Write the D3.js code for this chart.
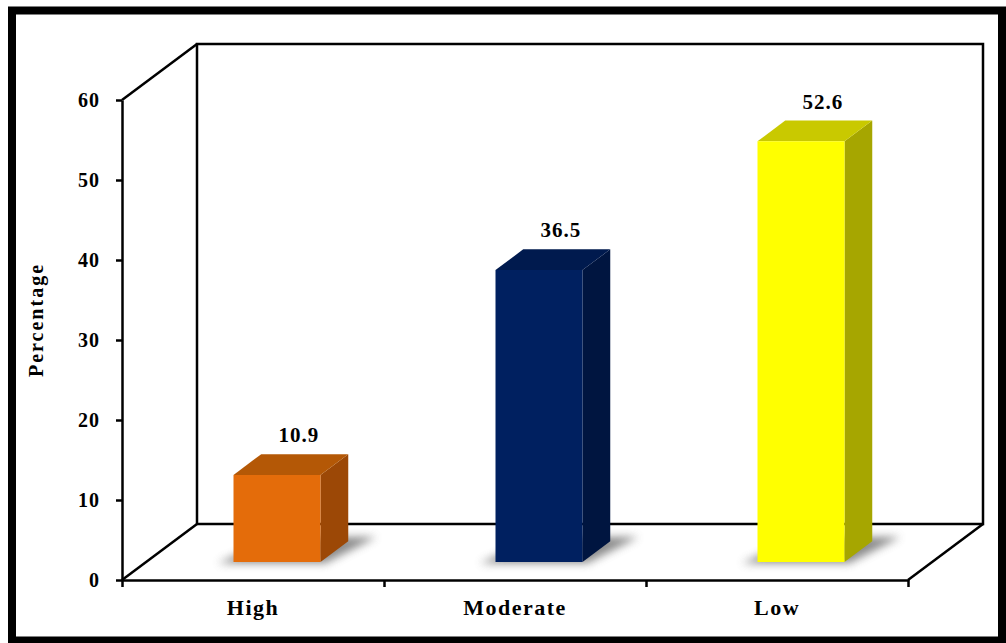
<!DOCTYPE html>
<html>
<head>
<meta charset="utf-8">
<script src="https://cdn.jsdelivr.net/npm/d3@7"></script>
<style>
  body { margin: 0; background: #fff; }
  svg text { font-family: "Liberation Serif", "Times New Roman", serif; font-weight: bold; }
</style>
</head>
<body>
<div id="chart"></div>
<script>
// chart data
var categories = ["High", "Moderate", "Low"];
var values = [10.9, 36.5, 52.6];
var yTicks = [0, 10, 20, 30, 40, 50, 60];
var faceColors = ["#e46c0a", "#002060", "#ffff00"];
var sideColors = ["#9c4806", "#001540", "#a6a600"];
var topColors = ["#b45806", "#001a4e", "#c9c900"];

var svg = d3.select("#chart").append("svg").attr("width", 1006).attr("height", 643);

// frame
svg.append("rect").attr("x", 12).attr("y", 10.5).attr("width", 990).attr("height", 630)
    .attr("fill", "#fff").attr("stroke", "#000").attr("stroke-width", 8);

// plot origin (front-left corner of floor) and depth offset
var x0 = 122, y0 = 580, DX = 75, DY = 56;
var plotW = 786, plotH = 480;

var y = d3.scaleLinear().domain([0, 60]).range([0, plotH]);
var x = d3.scaleBand().domain(categories).range([0, plotW]);
var xEdge = d3.scaleLinear().domain([0, 3]).range([0, plotW]);

function proj(px, v, d) {
    return [x0 + px + d * DX, y0 - y(v) - d * DY];
}
function poly(pts) {
    return pts.map(function (p) { return p.join(","); }).join(" ");
}

var defs = svg.append("defs");
defs.append("filter").attr("id", "blur").attr("x", "-30%").attr("y", "-50%").attr("width", "160%").attr("height", "200%")
    .append("feGaussianBlur").attr("stdDeviation", 4);

var wall = svg.append("g").attr("fill", "none").attr("stroke", "#000").attr("stroke-width", 2.5);
// back wall and floor outline
wall.append("polyline").attr("points", poly([proj(0, 0, 1), proj(0, 60, 1), proj(plotW, 60, 1), proj(plotW, 0, 1), proj(0, 0, 1)]));
wall.append("line").attr("x1", proj(0, 60, 0)[0]).attr("y1", proj(0, 60, 0)[1]).attr("x2", proj(0, 60, 1)[0]).attr("y2", proj(0, 60, 1)[1]);
wall.append("line").attr("x1", proj(0, 0, 0)[0]).attr("y1", proj(0, 0, 0)[1]).attr("x2", proj(0, 0, 1)[0]).attr("y2", proj(0, 0, 1)[1]);
wall.append("line").attr("x1", proj(plotW, 0, 0)[0]).attr("y1", proj(plotW, 0, 0)[1]).attr("x2", proj(plotW, 0, 1)[0]).attr("y2", proj(plotW, 0, 1)[1]);

// y axis (front)
var yAxis = d3.axisLeft(d3.scaleLinear().domain([0, 60]).range([plotH, 0]))
    .tickValues(yTicks).tickSize(6).tickSizeOuter(0).tickPadding(16);
var gy = svg.append("g").attr("transform", "translate(" + x0 + "," + (y0 - plotH) + ")").call(yAxis);
gy.selectAll("text").style("font-size", "20px").style("letter-spacing", "1px").attr("fill", "#000");
gy.selectAll("line, path").attr("stroke", "#000").attr("stroke-width", 2.5);

// x axis (front)
var xAxis = d3.axisBottom(xEdge).tickValues([0, 1, 2, 3]).tickFormat("").tickSize(7).tickSizeOuter(0);
var gx = svg.append("g").attr("transform", "translate(" + x0 + "," + y0 + ")").call(xAxis);
gx.selectAll("line, path").attr("stroke", "#000").attr("stroke-width", 2.5);

svg.selectAll("text.cat").data(categories).enter().append("text").attr("class", "cat")
    .attr("x", function (d) { return x0 + x(d) + x.bandwidth() / 2; })
    .attr("y", 615).attr("text-anchor", "middle").style("font-size", "22px").style("letter-spacing", "1.5px")
    .text(function (d) { return d; });

svg.append("text").attr("transform", "translate(43,320) rotate(-90)").attr("text-anchor", "middle")
    .style("font-size", "20px").style("letter-spacing", "2px").text("Percentage");

// bars
var d0 = 0.32, d1 = 0.69, half = 43.5;
var bars = svg.append("g");
categories.forEach(function (c, i) {
    var cx = x(c) + x.bandwidth() / 2;
    var xl = cx - half, xr = cx + half, v = values[i];
    var g = bars.append("g");
    g.append("polygon")
        .attr("points", poly([proj(xl - 14, 0, d0 - 0.02), proj(xr + 6, 0, d0 - 0.02), proj(xr + 22, 0, d1 + 0.08), proj(xl + 10, 0, d1 + 0.08)]))
        .attr("fill", "#6e6e6e").attr("opacity", 0.8).attr("filter", "url(#blur)");
    g.append("polygon")
        .attr("points", poly([proj(xr, 0, d0), proj(xr, 0, d1), proj(xr, v, d1), proj(xr, v, d0)]))
        .attr("fill", sideColors[i]);
    g.append("polygon")
        .attr("points", poly([proj(xl, v, d0), proj(xr, v, d0), proj(xr, v, d1), proj(xl, v, d1)]))
        .attr("fill", topColors[i]);
    g.append("polygon")
        .attr("points", poly([proj(xl, 0, d0), proj(xr, 0, d0), proj(xr, v, d0), proj(xl, v, d0)]))
        .attr("fill", faceColors[i]);
    var lp = proj(cx, v, d1);
    g.append("text").attr("x", lp[0] - 6).attr("y", lp[1] - 12).attr("text-anchor", "middle")
        .style("font-size", "21px").style("letter-spacing", "1px").text(v.toFixed(1));
});
</script>
</body>
</html>
